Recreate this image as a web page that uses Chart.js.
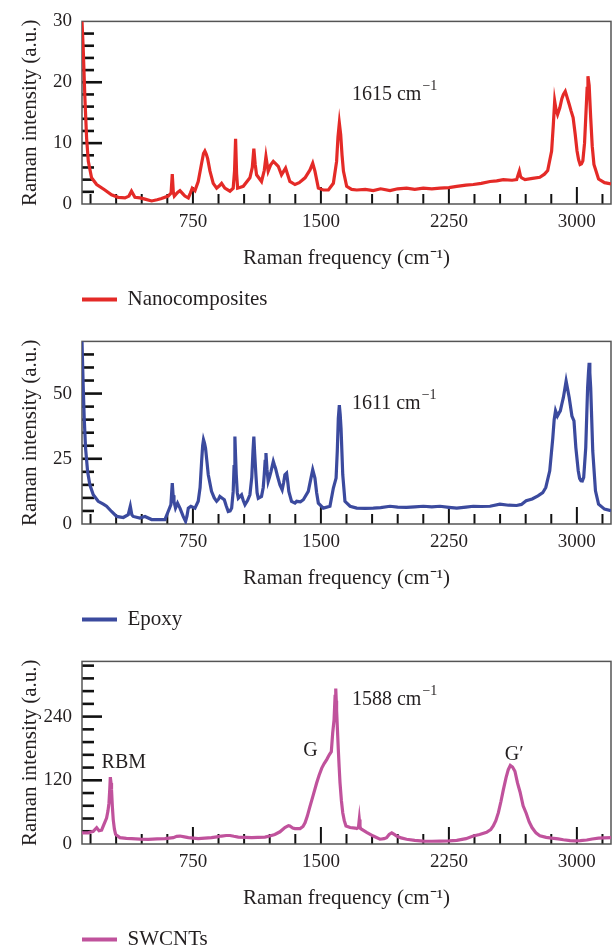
<!DOCTYPE html>
<html><head><meta charset="utf-8">
<script src="https://cdn.jsdelivr.net/npm/chart.js@4"></script>
<style>
html,body{margin:0;padding:0;background:#fff;width:613px;height:946px;overflow:hidden;position:relative}
canvas{position:absolute;left:0}
</style></head><body>
<canvas id="c1" width="613" height="320" style="top:0px"></canvas>
<canvas id="c2" width="613" height="320" style="top:320px"></canvas>
<canvas id="c3" width="613" height="320" style="top:640px"></canvas>
<script>
// ---------- data ----------
const nanoX = [100,107,117,127,137,156,186,234,273,312,352,375,390,410,440,469,508,540,566,605,622,629,635,641,660,674,690,703,723,735,746,762,781,801,812,820,828,836,850,869,889,905,918,937,967,986,994,1000,1006,1012,1045,1084,1098,1107,1115,1123,1152,1168,1178,1191,1205,1221,1236,1250,1269,1293,1318,1348,1373,1407,1436,1452,1465,1485,1514,1544,1573,1592,1600,1608,1616,1624,1632,1651,1680,1710,1760,1807,1850,1905,1950,2002,2050,2100,2150,2198,2250,2296,2350,2393,2440,2491,2530,2569,2620,2647,2656,2663,2670,2676,2696,2740,2783,2810,2829,2852,2862,2870,2878,2887,2900,2912,2921,2932,2942,2955,2966,2978,2990,3001,3010,3019,3027,3035,3045,3052,3060,3065,3072,3081,3090,3100,3127,3162,3200];
const nanoY = [30,25.6,17.4,10.8,7,4.3,3.2,2.3,1.5,1.1,1.0,1.3,2.1,1.1,1.0,0.8,0.5,0.7,0.9,1.3,1.8,4.9,2.0,1.3,1.9,2.2,1.7,1.3,1.0,1.8,2.6,2.2,3.7,6.7,8.3,8.7,8.2,7.5,5.4,3.4,2.6,3.0,3.4,2.6,2.1,2.6,5.5,10.7,5.0,2.6,2.9,4.3,6.0,9.1,6.5,4.8,3.7,5.5,7.8,5.4,6.4,7.0,6.6,6.2,4.8,5.9,3.7,3.2,3.5,4.3,5.6,6.7,5.4,2.6,2.3,2.3,3.4,7.0,11,13.3,11.4,8,5.4,2.9,2.4,2.3,2.4,2.2,2.5,2.2,2.5,2.6,2.4,2.6,2.5,2.6,2.7,2.9,3.1,3.2,3.4,3.7,3.8,4.0,3.9,4.0,4.8,5.4,4.5,4.3,4.0,4.2,4.4,4.9,5.5,8.7,13,16.9,15.5,14.7,15.8,17.3,18,18.5,17.6,16.4,15.3,14.2,11.5,8.7,7.3,6.5,6.6,7.1,10,14.2,19,21,19.5,14.2,9.5,6.5,4.1,3.5,3.3];

const epoxyX = [100,107,113,121,133,146,166,195,225,244,273,303,342,371,383,392,400,439,469,508,547,586,605,621,629,634,639,648,660,674,693,707,715,723,738,762,781,792,801,807,812,818,824,832,840,859,875,889,900,908,920,934,945,957,968,977,986,991,996,1000,1004,1010,1016,1025,1035,1045,1055,1070,1084,1095,1102,1107,1112,1119,1126,1133,1152,1162,1168,1173,1178,1184,1191,1199,1207,1214,1221,1228,1234,1247,1260,1273,1282,1289,1299,1306,1312,1328,1348,1358,1380,1397,1426,1440,1452,1465,1475,1485,1514,1553,1573,1589,1596,1602,1608,1613,1618,1628,1641,1671,1710,1760,1807,1850,1905,1950,2002,2050,2100,2150,2198,2250,2296,2350,2393,2440,2491,2549,2600,2647,2675,2703,2738,2772,2800,2818,2841,2859,2867,2875,2886,2895,2903,2912,2921,2930,2937,2945,2955,2971,2983,2994,3008,3016,3024,3032,3040,3052,3058,3063,3068,3072,3076,3081,3093,3109,3127,3162,3200];
const epoxyY = [70,53,40.5,29,20,15,11.2,8.7,7.6,6.8,4.8,2.9,2.5,3.6,6.8,3.5,2.9,2.3,2.9,1.7,1.7,1.7,4.8,7.4,15.7,11,8.7,6.1,8.0,6.1,2.9,1.0,3,6.1,6.8,6.1,8.7,14,24,30,32.3,31,29,24,18.9,12.5,10,8.7,9.5,10.6,10,9.3,7,4.8,5,6.1,12.5,22,33.5,26,18.9,12,9.9,10.5,11.2,9,7.4,9,11.2,18,28,33.5,27,18.9,12,9.9,10.6,14,18.9,24,27.2,21,16.3,18,20,22,24,22.5,21.4,18,15,13.1,16,18.9,19.5,16,12.5,8.7,8.0,8.7,8.5,9.3,12.5,17,20.8,17.6,12,8,6.1,6.8,13.8,17.6,28,40.5,45.6,42,36.7,18.9,8.7,6.8,6.1,6.0,6.1,6.3,6.8,6.5,6.4,6.6,6.8,6.6,6.8,6.4,6.1,6.5,6.8,6.7,6.8,7.6,7.2,7.1,7.5,8.9,9.6,10.8,12,14,20.4,33,40,43.4,41.4,42.5,43.4,46,48.5,52,54.8,52,48.5,41.4,39.5,29.3,20.4,17.5,16.6,16.5,17.9,29.3,42,52.3,58,61.8,58,52.3,28,12.7,7.6,5.7,5.1];

const swcntX = [100,137,166,186,200,215,225,244,252,258,263,266,270,273,278,283,290,297,322,360,391,440,488,540,586,635,655,674,700,723,781,820,859,890,918,945,967,990,1016,1060,1094,1130,1172,1200,1230,1260,1289,1310,1318,1335,1348,1378,1395,1407,1420,1436,1455,1475,1490,1505,1520,1534,1549,1561,1569,1577,1583,1587,1590,1592,1597,1602,1607,1612,1620,1628,1637,1647,1671,1700,1710,1720,1725,1729,1733,1768,1807,1846,1870,1885,1900,1915,1930,1944,1970,2002,2050,2100,2150,2198,2250,2296,2350,2393,2430,2471,2495,2510,2525,2540,2555,2569,2585,2598,2610,2623,2637,2652,2667,2685,2703,2720,2737,2760,2783,2820,2852,2890,2921,2960,2990,3020,3058,3090,3127,3160,3200];
const swcntY = [21,21,24,30.6,25,26,34,49,62,77,105,126,115,102,70,46,28,18,12,10.5,10,9.2,8.8,9.5,10,12,14.5,15,13.5,12,10,11,12,13.5,15,16,16,14.5,13,12.5,12,12.5,13,15,18,23,31,34.5,34,30,29,29,33,40,52,71,92,115,130,143,152,159,168,174,209,234,278,293,270,252,215,178,145,115,82,59,44,34,31,30,29,31,46,33,29,22,15,9,10,12,18,21,18,15,11.5,9,7,5.6,5.2,5.6,6,7,10,15,18,22,27,34,44,59,80,102,125,140,148,145,137,115,98,72,58,42,31,21,15.6,12.5,11,9.5,8,6.5,6,6.5,7.5,9.5,11,11.5,12];

const xLabels = [750, 1500, 2250, 3000];
const xMinorStep = 150;
const nanoYLabels = [0, 10, 20, 30];
const epoxyYLabels = [0, 25, 50];
const swcntYLabels = [0, 120, 240];

// ---------- style ----------
const FONT = "'Liberation Serif','Times New Roman',serif";
const TXT = '#231f20';

function range(a, b, s) { const r = []; for (let v = a; v <= b + 1e-9; v += s) r.push(Math.round(v * 1000) / 1000); return r; }
const xTicks = range(xMinorStep, 3150, xMinorStep);

const inTicks = {
  id: 'inTicks',
  beforeDatasetsDraw(chart, args, o) {
    const {ctx, chartArea: a, scales: {x, y}} = chart;
    ctx.save();
    ctx.strokeStyle = '#111';
    ctx.lineWidth = 2;
    x.ticks.forEach(t => {
      const px = x.getPixelForValue(t.value);
      const len = o.xMajor.includes(t.value) ? 17 : 10;
      ctx.beginPath(); ctx.moveTo(px, a.bottom); ctx.lineTo(px, a.bottom - len); ctx.stroke();
    });
    ctx.lineWidth = 2.6;
    y.ticks.forEach(t => {
      if (t.value <= y.min || t.value >= y.max) return;
      const py = y.getPixelForValue(t.value);
      const len = o.yMajor.includes(t.value) ? 20 : 12;
      ctx.beginPath(); ctx.moveTo(a.left, py); ctx.lineTo(a.left + len, py); ctx.stroke();
    });
    ctx.strokeStyle = '#555'; ctx.lineWidth = 1.5;
    ctx.strokeRect(a.left, a.top, a.right - a.left, a.bottom - a.top);
    ctx.restore();
  }
};

const notes = {
  id: 'notes',
  afterDatasetsDraw(chart, args, o) {
    const {ctx, scales: {x, y}} = chart;
    ctx.save();
    ctx.fillStyle = TXT; ctx.textBaseline = 'middle'; ctx.textAlign = 'left';
    (o.items || []).forEach(it => {
      const px = x.getPixelForValue(it.x), py = y.getPixelForValue(it.y);
      ctx.font = `20px ${FONT}`;
      ctx.fillText(it.text, px, py);
      if (it.sup) {
        const w = ctx.measureText(it.text).width;
        ctx.font = `14px ${FONT}`;
        ctx.fillText(it.sup, px + w + 1, py - 8);
      }
    });
    ctx.restore();
  }
};

const legendShift = {
  id: 'legendShift',
  afterLayout(chart) {
    const l = chart.legend;
    if (l) l.left = chart.chartArea.left - l.options.labels.padding;
  }
};

function makeChart(id, label, color, xs, ys, yMax, yStep, yLabels, items) {
  new Chart(document.getElementById(id), {
    type: 'line',
    data: { datasets: [{
      label, data: xs.map((v, i) => ({x: v, y: ys[i]})),
      borderColor: color, backgroundColor: color, borderWidth: 3.2,
      pointRadius: 0, tension: 0, fill: false
    }]},
    options: {
      responsive: false, animation: false, devicePixelRatio: 1,
      layout: { padding: {top: 20, right: 2, bottom: 0, left: 0} },
      scales: {
        x: {
          type: 'linear', min: 100, max: 3200,
          afterBuildTicks: s => { s.ticks = xTicks.map(v => ({value: v})); },
          afterFit: s => { s.height = 76; },
          grid: {display: false, drawTicks: false}, border: {display: false},
          ticks: { autoSkip: false, maxRotation: 0, padding: 7, color: TXT,
                   font: {family: FONT, size: 19},
                   callback: v => xLabels.includes(v) ? String(v) : '' },
          title: { display: true, text: 'Raman frequency (cm\u207B\u00B9)', color: TXT,
                   font: {family: FONT, size: 21}, padding: {top: 0, bottom: 9} }
        },
        y: {
          type: 'linear', min: 0, max: yMax,
          afterBuildTicks: s => { s.ticks = range(0, yMax, yStep).map(v => ({value: v})); },
          afterFit: s => { s.width = 82; },
          grid: {display: false, drawTicks: false}, border: {display: false},
          ticks: { autoSkip: false, padding: 10, color: TXT,
                   font: {family: FONT, size: 19},
                   callback: v => yLabels.includes(v) ? String(v) : '' },
          title: { display: true, text: 'Raman intensity (a.u.)', color: TXT,
                   font: {family: FONT, size: 21}, padding: {top: 18, bottom: 0} }
        }
      },
      plugins: {
        legend: {
          position: 'bottom', align: 'start',
          labels: {
            boxWidth: 35, boxHeight: 4, padding: 9, color: TXT,
            font: {family: FONT, size: 21},
            generateLabels: ch => Chart.defaults.plugins.legend.labels.generateLabels(ch).map(l => Object.assign(l, {lineWidth: 0}))
          }
        },
        tooltip: {enabled: false},
        inTicks: { xMajor: xLabels, yMajor: yLabels },
        notes: { items }
      }
    },
    plugins: [inTicks, notes, legendShift]
  });
}

makeChart('c1', 'Nanocomposites', '#e42a27', nanoX, nanoY, 30, 2, nanoYLabels,
  [{x: 1682, y: 18, text: '1615 cm', sup: '\u22121'}]);
makeChart('c2', 'Epoxy', '#3b4a9e', epoxyX, epoxyY, 70, 5, epoxyYLabels,
  [{x: 1682, y: 46.2, text: '1611 cm', sup: '\u22121'}]);
makeChart('c3', 'SWCNTs', '#c0529c', swcntX, swcntY, 344, 24, swcntYLabels,
  [{x: 1682, y: 272, text: '1588 cm', sup: '\u22121'},
   {x: 215, y: 153, text: 'RBM'},
   {x: 1397, y: 176, text: 'G'},
   {x: 2577, y: 169, text: 'G\u2032'}]);
</script>
</body></html>
